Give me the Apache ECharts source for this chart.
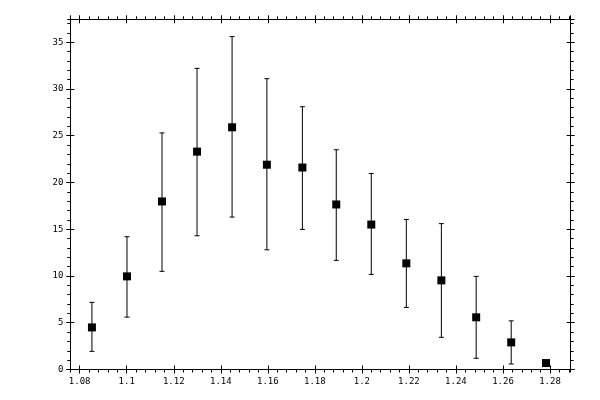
<!DOCTYPE html>
<html>
<head>
<meta charset="utf-8">
<script src="https://cdn.jsdelivr.net/npm/echarts@6/dist/echarts.min.js"></script>
<style>
  html, body { margin: 0; padding: 0; background: #fff; }
  #chart { width: 600px; height: 400px; }
</style>
</head>
<body>
<div id="chart"></div>
<script>
// values
var xValues = [1.0852, 1.1001, 1.1150, 1.1299, 1.1448, 1.1596, 1.1747, 1.1891, 1.2040, 1.2189, 1.2338, 1.2486, 1.2635, 1.2783];
var yValues = [4.5, 9.96, 17.97, 23.3, 25.9, 21.9, 21.6, 17.65, 15.5, 11.35, 9.53, 5.58, 2.9, 0.69];
var yLower = [1.94, 5.6, 10.5, 14.3, 16.3, 12.8, 14.98, 11.67, 10.17, 6.64, 3.44, 1.2, 0.59, 0.5];
var yUpper = [7.18, 14.2, 25.3, 32.2, 35.6, 31.1, 28.1, 23.5, 20.96, 16.05, 15.6, 9.96, 5.2, 0.9];

var X_MIN = 1.076, X_MAX = 1.2888;
var Y_MIN = 0, Y_MAX = 37.45;
var X_MINOR = 0.004, Y_MAJOR = 5, Y_MINOR = 1;

var labelFont = { color: '#000', fontSize: 9, fontFamily: 'DejaVu Sans Mono' };

/**
 * one axis; kind = 'major' (line + outward ticks), 'inner' (inward major ticks), 'minor'
 */
function makeAxis(kind, dim, pos, gridIndex, labels) {
  var axis = {
    type: 'value',
    gridIndex: gridIndex,
    position: pos,
    min: dim === 'x' ? X_MIN : Y_MIN,
    max: dim === 'x' ? X_MAX : Y_MAX,
    axisLine: { show: kind === 'major', onZero: false, lineStyle: { color: '#000', width: 1 } },
    axisTick: {
      show: true,
      inside: kind === 'inner',
      length: kind === 'minor' ? 3 : 4,
      lineStyle: { color: '#000', width: 1 }
    },
    splitLine: { show: false },
    axisLabel: { show: !!labels, showMinLabel: dim === 'y', showMaxLabel: false, margin: dim === 'x' ? 8 : 7 }
  };
  if (labels) {
    Object.assign(axis.axisLabel, labelFont);
  }
  if (kind === 'minor') {
    axis.interval = dim === 'x' ? X_MINOR : Y_MINOR;
  } else if (dim === 'x') {
    axis.splitNumber = 10;
  } else {
    axis.interval = Y_MAJOR;
  }
  return axis;
}

var kinds = ['major', 'inner', 'minor'];
var grids = [], xAxes = [], yAxes = [];
kinds.forEach(function (kind, i) {
  grids.push({ left: 70.3, right: 29.3, top: 19.3, bottom: 30.5 });
  xAxes.push(makeAxis(kind, 'x', 'bottom', i, i === 0));
  xAxes.push(makeAxis(kind, 'x', 'top', i, false));
  yAxes.push(makeAxis(kind, 'y', 'left', i, i === 0));
  yAxes.push(makeAxis(kind, 'y', 'right', i, false));
});

var barData = xValues.map(function (x, i) { return [x, yLower[i], yUpper[i]]; });
var pointData = xValues.map(function (x, i) { return [x, yValues[i]]; });

var chart = echarts.init(document.getElementById('chart'), null, { renderer: 'canvas' });
chart.setOption({
  animation: false,
  backgroundColor: '#fff',
  grid: grids,
  xAxis: xAxes,
  yAxis: yAxes,
  series: [
    {
      type: 'custom',
      xAxisIndex: 0,
      yAxisIndex: 0,
      data: barData,
      encode: { x: 0, y: [1, 2] },
      renderItem: function (params, api) {
        var x = api.value(0);
        var lo = api.coord([x, api.value(1)]);
        var hi = api.coord([x, api.value(2)]);
        var cap = 2.5;
        var st = { stroke: '#000', lineWidth: 1 };
        return {
          type: 'group',
          children: [
            { type: 'line', shape: { x1: hi[0], y1: hi[1], x2: lo[0], y2: lo[1] }, style: st },
            { type: 'line', shape: { x1: hi[0] - cap, y1: hi[1], x2: hi[0] + cap, y2: hi[1] }, style: st },
            { type: 'line', shape: { x1: lo[0] - cap, y1: lo[1], x2: lo[0] + cap, y2: lo[1] }, style: st }
          ]
        };
      }
    },
    {
      type: 'scatter',
      xAxisIndex: 0,
      yAxisIndex: 0,
      symbol: 'rect',
      symbolSize: 8,
      itemStyle: { color: '#000', opacity: 1 },
      data: pointData
    }
  ]
});
</script>
</body>
</html>
